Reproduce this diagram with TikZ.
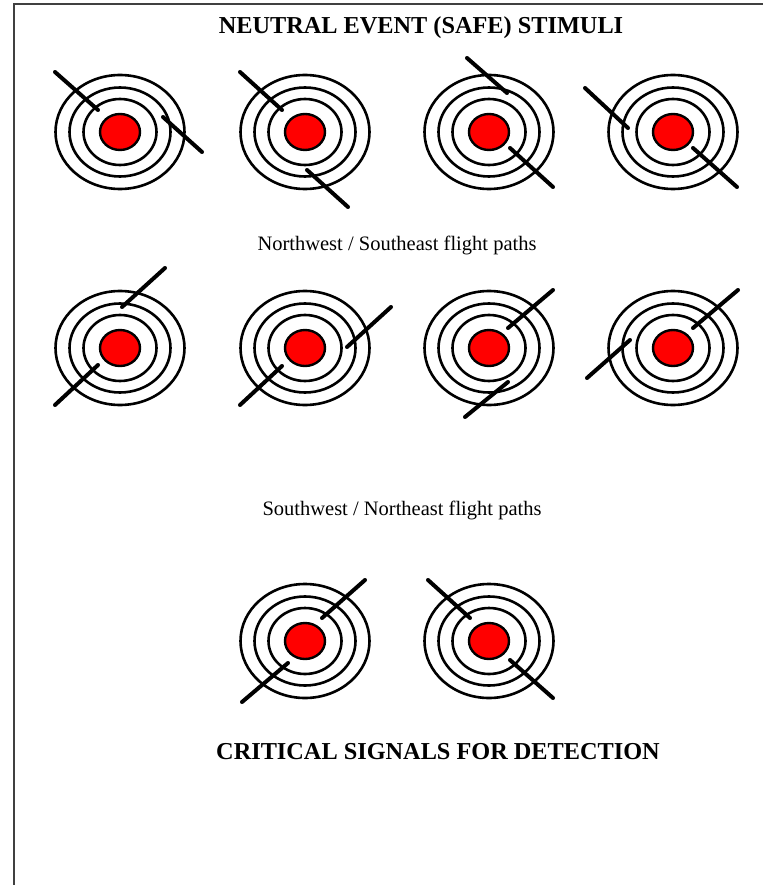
\documentclass[tikz,border=0pt]{standalone}
\usepackage{fontspec}
\setmainfont{Liberation Serif}
\definecolor{targetred}{RGB}{255,0,0}
\definecolor{framegray}{RGB}{64,64,64}
\tikzset{
  ring/.style={line width=2.6pt},
  bullseye/.style={line width=2.4pt,fill=targetred},
  flightpath/.style={line width=4pt,line cap=round}
}
\begin{document}
\begin{tikzpicture}[x=1pt,y=-1pt,font=\fontsize{20.5}{24}\selectfont]
\path[use as bounding box] (0,0) rectangle (763,885);
\draw[framegray,line width=1.6pt] (14,885) -- (14,4) -- (763,4);
\node[font=\fontsize{24.3}{28}\selectfont\bfseries] (title) at (421,28)
  {NEUTRAL EVENT (SAFE) STIMULI};
% Target rings; the centres are the radar positions in the three rows.
\foreach \cx/\cy in {120/132,305/132,489/132,673/132,
                     120/348,305/348,489/348,673/348,
                     305/641,489/641}{
  \draw[ring] (\cx,\cy) ellipse [x radius=64.5,y radius=57];
  \draw[ring] (\cx,\cy) ellipse [x radius=50.5,y radius=44.5];
  \draw[ring] (\cx,\cy) ellipse [x radius=36.5,y radius=33];
  \draw[bullseye] (\cx,\cy) ellipse [x radius=20,y radius=18];
}
% Northwest / southeast paths
\draw[flightpath] (55,72) -- (98,110);
\draw[flightpath] (163,117) -- (202,152);
\draw[flightpath] (240,72) -- (282,110);
\draw[flightpath] (307,170) -- (348,207);
\draw[flightpath] (467,58) -- (507,93);
\draw[flightpath] (510,148) -- (553,187);
\draw[flightpath] (585,88) -- (628,128);
\draw[flightpath] (693,148) -- (737,187);
\node (nwse) at (397,245) {Northwest / Southeast flight paths};
% Southwest / northeast paths
\draw[flightpath] (122,307) -- (165,268);
\draw[flightpath] (98,365) -- (55,405);
\draw[flightpath] (347,347) -- (391,307);
\draw[flightpath] (282,366) -- (240,405);
\draw[flightpath] (508,328) -- (553,290);
\draw[flightpath] (508,382) -- (465,417);
\draw[flightpath] (693,328) -- (738,290);
\draw[flightpath] (630,340) -- (587,378);
\node (swne) at (402,510) {Southwest / Northeast flight paths};
% Critical signals
\draw[flightpath] (322,618) -- (365,580);
\draw[flightpath] (288,663) -- (242,702);
\draw[flightpath] (428,580) -- (470,618);
\draw[flightpath] (510,660) -- (553,698);
\node[font=\fontsize{24.3}{28}\selectfont\bfseries] (critical) at (438,752)
  {CRITICAL SIGNALS FOR DETECTION};
\end{tikzpicture}
\end{document}
